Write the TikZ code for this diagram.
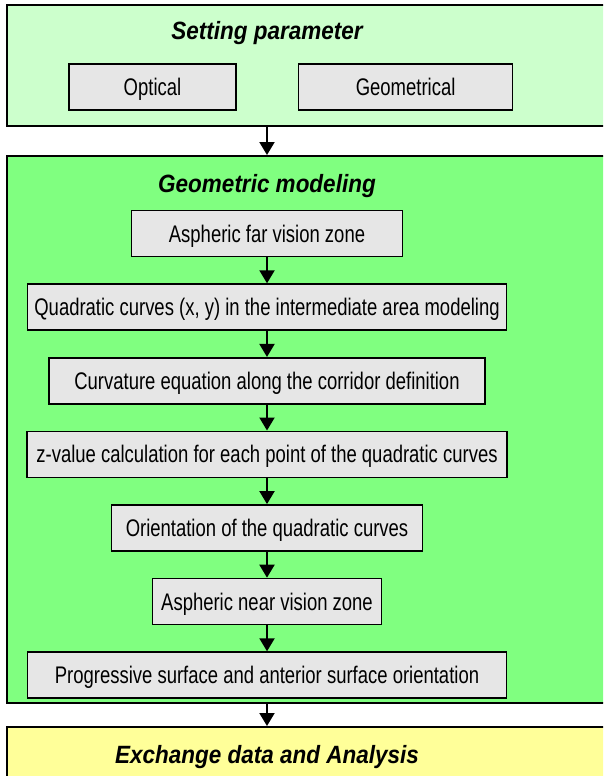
\documentclass[tikz,border=0pt]{standalone}
\usepackage{fontspec}
\setmainfont{Liberation Sans}
\newfontfamily\stepfont[FakeStretch=0.77]{Liberation Sans}
\newfontfamily\stagefont[FakeStretch=0.9]{Liberation Sans}
\usepackage{tikz}
\usetikzlibrary{arrows.meta,positioning,calc}

\definecolor{paleGreen}{RGB}{204,255,204}
\definecolor{brightGreen}{RGB}{128,255,128}
\definecolor{paleYellow}{RGB}{255,255,153}
\definecolor{boxGray}{RGB}{230,230,230}

\begin{document}
\begin{tikzpicture}[x=1pt, y=1pt, node distance=26pt,
    stepbox/.style={rectangle, draw, line width=1.6pt, fill=boxGray, minimum height=46pt, inner sep=2pt, text height=17.2pt, text depth=0pt, font=\stepfont\fontsize{24}{28}\selectfont},
    stagebox/.style={rectangle, draw, line width=1.8pt, anchor=north west, minimum width=640pt},
    stagetitle/.style={anchor=base, font=\stagefont\fontsize{25}{30}\selectfont\bfseries\itshape},
    flow/.style={-{Triangle[width=15pt,length=13pt]}, line width=2pt}]
    \useasboundingbox (0,0) rectangle (603,-776);
    \clip (0,0) rectangle (603,-776);

    % Stages
    \node (setpar) [stagebox, fill=paleGreen, minimum height=121pt] at (6,-4) {};
    \node (model) [stagebox, fill=brightGreen, minimum height=547pt] at (6,-155) {};
    \node (exch) [stagebox, fill=paleYellow, minimum height=90pt] at (6,-726) {};
    \node (settitle) [stagetitle] at (267,-40) {Setting parameter};
    \node (modtitle) [stagetitle] at (267,-192) {Geometric modeling};
    \node (exchtitle) [stagetitle] at (267,-763) {Exchange data and Analysis};

    % Parameters
    \node (optical) [stepbox, minimum width=167pt] at (152.5,-87) {Optical};
    \node (geometrical) [stepbox, minimum width=214pt, right=61pt of optical] {Geometrical};

    % Modeling steps
    \node (far) [stepbox, minimum width=271pt] at (267,-233.5) {Aspheric far vision zone};
    \node (quad) [stepbox, minimum width=479pt, below=of far] {Quadratic curves (x, y) in the intermediate area modeling};
    \node (curv) [stepbox, minimum width=436pt, below=of quad] {Curvature equation along the corridor definition};
    \node (zval) [stepbox, minimum width=480pt, below=of curv] {z-value calculation for each point of the quadratic curves};
    \node (orient) [stepbox, minimum width=311pt, below=of zval] {Orientation of the quadratic curves};
    \node (near) [stepbox, minimum width=229pt, below=of orient] {Aspheric near vision zone};
    \node (prog) [stepbox, minimum width=479pt, below=of near] {Progressive surface and anterior surface orientation};

    % Arrows
    \draw [flow] (far |- setpar.south) -- (far |- model.north);
    \draw [flow] (far) -- (quad);
    \draw [flow] (quad) -- (curv);
    \draw [flow] (curv) -- (zval);
    \draw [flow] (zval) -- (orient);
    \draw [flow] (orient) -- (near);
    \draw [flow] (near) -- (prog);
    \draw [flow] (prog |- model.south) -- (prog |- exch.north);
\end{tikzpicture}
\end{document}
